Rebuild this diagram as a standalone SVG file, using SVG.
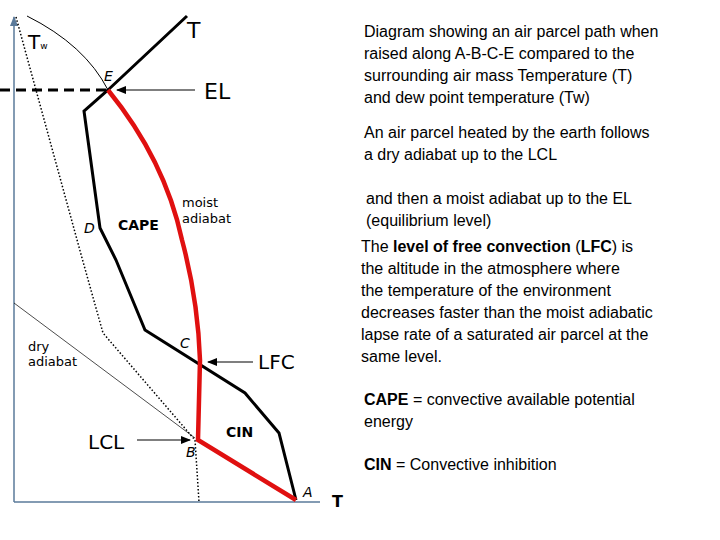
<svg xmlns="http://www.w3.org/2000/svg" width="720" height="540" viewBox="0 0 720 540">
<defs>
<marker id="ah" markerWidth="10" markerHeight="8" refX="9" refY="4" orient="auto" markerUnits="userSpaceOnUse"><path d="M0,0 L10,4 L0,8 Z" fill="#000"/></marker>
<marker id="ab" markerWidth="10" markerHeight="8" refX="9" refY="4" orient="auto" markerUnits="userSpaceOnUse"><path d="M0,0 L10,4 L0,8 Z" fill="#5a7a9a"/></marker>
</defs>
<style>
text{font-family:"DejaVu Sans","Liberation Sans",sans-serif;fill:#000}
.d{font-family:"Liberation Sans",Arial,sans-serif;font-size:16px}
.it{font-style:italic;font-size:14px}
</style>
<rect width="720" height="540" fill="#fff"/>
<g id="axes" fill="none" stroke="#5a7a9a" stroke-width="1.5">
<line x1="14" y1="502" x2="14" y2="17" marker-end="url(#ab)"/>
<line x1="14" y1="502" x2="320" y2="502"/>
</g>
<g id="connectors" fill="none">
<path d="M16,17 L82,258 L103,333 L195,440 L199,502" stroke="#000" stroke-width="1.5" stroke-dasharray="1.5,2"/>
<path d="M27,16 Q85,45 108,90" stroke="#000" stroke-width="1"/>
<line x1="14" y1="303" x2="195" y2="438" stroke="#000" stroke-width="0.7"/>
<path d="M187,16 L108,90 L84,111 L100,228 L116,260 L145,330 L245,393 L279,433 L296,500" stroke="#000" stroke-width="3"/>
<path d="M296,500 L198,440 L200,360 Q198,300 182,240 Q165,160 108,90" stroke="#e01010" stroke-width="4.5"/>
<line x1="0" y1="90" x2="108" y2="90" stroke="#000" stroke-width="3" stroke-dasharray="10,6"/>
<line x1="195" y1="90" x2="117" y2="90" stroke="#000" stroke-width="1.2" marker-end="url(#ah)"/>
<line x1="253" y1="362" x2="208" y2="362" stroke="#000" stroke-width="1.2" marker-end="url(#ah)"/>
<line x1="137" y1="440" x2="190" y2="440" stroke="#000" stroke-width="1.2" marker-end="url(#ah)"/>
</g>
<g id="labels">
<text x="187" y="38" font-size="22">T</text>
<text x="28" y="49" font-size="20">T<tspan font-size="9">w</tspan></text>
<text x="104" y="81" class="it">E</text>
<text x="204" y="99" font-size="22">EL</text>
<text x="182" y="207" font-size="13">moist</text>
<text x="182" y="223" font-size="13">adiabat</text>
<text x="118" y="230" font-size="14" font-weight="bold">CAPE</text>
<text x="84" y="233" class="it">D</text>
<text x="28" y="351" font-size="13">dry</text>
<text x="28" y="366" font-size="13">adiabat</text>
<text x="180" y="348" class="it">C</text>
<text x="258" y="369" font-size="20">LFC</text>
<text x="226" y="437" font-size="14" font-weight="bold">CIN</text>
<text x="88" y="449" font-size="20">LCL</text>
<text x="186" y="457" class="it">B</text>
<text x="303" y="497" class="it">A</text>
<text x="332" y="507" font-size="16" font-weight="bold" font-family="Liberation Sans,sans-serif">T</text>
</g>
<g id="description">
<text class="d" x="364" y="37">Diagram showing an air parcel path when</text>
<text class="d" x="364" y="59">raised along A-B-C-E compared to the</text>
<text class="d" x="364" y="81">surrounding air mass Temperature (T)</text>
<text class="d" x="364" y="103">and dew point temperature (Tw)</text>
<text class="d" x="364" y="138">An air parcel heated by the earth follows</text>
<text class="d" x="364" y="160">a dry adiabat up to the LCL</text>
<text class="d" x="366" y="204">and then a moist  adiabat up to the EL</text>
<text class="d" x="366" y="226">(equilibrium level)</text>
<text class="d" x="361" y="252">The <tspan font-weight="bold">level of free convection</tspan> (<tspan font-weight="bold">LFC</tspan>) is</text>
<text class="d" x="361" y="274">the altitude in the atmosphere where</text>
<text class="d" x="361" y="296">the temperature of the environment</text>
<text class="d" x="361" y="318">decreases faster than the moist adiabatic</text>
<text class="d" x="361" y="340">lapse rate of a saturated air parcel at the</text>
<text class="d" x="361" y="362">same level.</text>
<text class="d" x="364" y="405"><tspan font-weight="bold">CAPE</tspan> = convective available potential</text>
<text class="d" x="364" y="427">energy</text>
<text class="d" x="364" y="470"><tspan font-weight="bold">CIN</tspan> = Convective inhibition</text>
</g>
</svg>
